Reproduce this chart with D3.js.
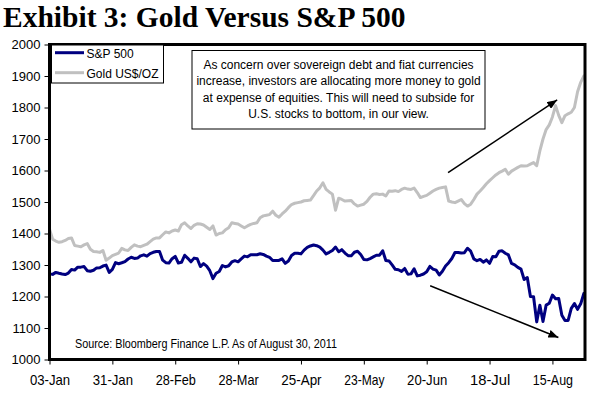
<!DOCTYPE html>
<html><head><meta charset="utf-8">
<script src="https://cdn.jsdelivr.net/npm/d3@7"></script>
<style>
html,body{margin:0;padding:0;background:#fff;}
svg{display:block;}
text{font-family:"Liberation Sans",Arial,sans-serif;}
</style></head>
<body>
<script>
// ---- data ----
const tickLabels = ["03-Jan","31-Jan","28-Feb","28-Mar","25-Apr","23-May","20-Jun","18-Jul","15-Aug"];
const yTicks = [1000,1100,1200,1300,1400,1500,1600,1700,1800,1900,2000];
const spx = [1271.87,1270.20,1276.56,1273.85,1271.50,1269.75,1274.48,1285.96,1283.76,1293.24,
1293.24,1295.02,1281.92,1280.26,1283.35,1290.84,1291.18,1296.63,1299.54,1276.34,
1286.12,1307.59,1304.03,1307.10,1310.87,1319.05,1324.57,1320.88,1321.87,1329.15,
1332.32,1328.01,1336.32,1340.43,1343.01,1343.01,1315.44,1307.40,1306.10,1319.88,
1327.22,1306.33,1308.44,1330.97,1321.15,1310.13,1321.82,1320.02,1295.11,1304.28,
1296.39,1281.87,1256.88,1273.72,1279.21,1298.38,1293.77,1297.54,1309.66,1313.80,
1310.19,1319.44,1328.26,1325.83,1332.41,1332.87,1332.63,1335.54,1333.51,1328.17,
1324.46,1314.16,1314.41,1314.52,1319.68,1305.14,1312.62,1330.36,1337.38,1337.38,
1335.25,1347.24,1355.66,1360.48,1363.61,1361.22,1356.62,1347.32,1335.10,1340.20,
1346.29,1357.16,1342.08,1348.65,1337.77,1329.47,1328.98,1340.68,1343.60,1333.27,
1317.37,1316.28,1320.47,1325.69,1331.10,1331.10,1345.20,1314.55,1312.94,1300.16,
1286.17,1284.94,1279.56,1289.00,1270.98,1271.83,1287.87,1265.42,1267.64,1271.50,
1278.36,1295.52,1287.14,1283.50,1268.45,1280.10,1296.67,1307.41,1320.64,1339.67,
1339.67,1337.88,1339.22,1353.22,1343.80,1319.49,1313.64,1317.72,1308.87,1316.14,
1305.44,1326.73,1325.84,1343.80,1345.02,1337.43,1331.94,1304.89,1300.67,1292.28,
1286.94,1254.05,1260.34,1200.07,1199.38,1119.46,1172.53,1120.76,1172.64,1178.81,
1204.49,1192.76,1193.89,1140.65,1123.53,1123.82,1162.35,1177.60,1159.27,1176.80,
1210.08,1212.92];
const gold = [1414,1382,1376,1372,1374,1378,1384,1386,1362,1360,
1358,1364,1368,1350,1343,1342,1340,1346,1315,1322,
1330,1334,1338,1353,1348,1346,1356,1364,1360,1358,
1362,1366,1374,1382,1386,1386,1396,1405,1402,1408,
1411,1408,1428,1434,1424,1416,1426,1431,1430,1427,
1420,1413,1424,1395,1400,1402,1412,1418,1434,1432,
1430,1424,1418,1424,1429,1432,1434,1450,1456,1458,
1460,1471,1458,1452,1462,1471,1482,1492,1496,1498,
1500,1504,1505,1506,1520,1535,1545,1561,1540,1532,
1525,1474,1512,1508,1503,1504,1505,1494,1487,1490,
1493,1502,1515,1525,1526,1524,1525,1519,1535,1534,
1536,1533,1540,1544,1541,1540,1544,1530,1514,1518,
1521,1528,1535,1540,1544,1546,1548,1503,1500,1498,
1503,1508,1495,1487,1493,1508,1525,1535,1546,1558,
1568,1577,1586,1593,1598,1604,1588,1598,1604,1610,
1615,1614,1615,1620,1625,1615,1662,1700,1730,1745,
1770,1806,1775,1752,1774,1780,1785,1800,1850,1880,
1900,1903];
const seriesNames = ["S&P 500","Gold US$/OZ"];
const seriesColors = ["#000080","#c0c0c0"];
const noteLines = ["As concern over sovereign debt and fiat currencies",
"increase, investors are allocating more money to gold",
"at expense of equities. This will need to subside for",
"U.S. stocks to bottom, in our view."];
const sourceText = "Source: Bloomberg Finance L.P. As of August 30, 2011";
const titleText = "Exhibit 3: Gold Versus S&P 500";
// arrows in data coordinates [index, value]
const arrowUp = [[126.8,1593],[161.5,1824]];
const arrowDown = [[121.1,1234],[161.9,1070]];

// ---- layout ----
const W=600,H=399;
const L=49.5,R=585,T=44.5,B=359.5;
const svg=d3.select("body").append("svg").attr("width",W).attr("height",H);
const x=d3.scaleLinear().domain([0,171]).range([L,587]);
const y=d3.scaleLinear().domain([1000,2000]).range([B,T]);

svg.append("text").attr("x",3).attr("y",27)
  .style("font-family",'"Liberation Serif","Times New Roman",serif')
  .style("font-weight","bold").style("font-size","29.5px").text(titleText);

svg.append("defs").append("clipPath").attr("id","clip")
  .append("rect").attr("x",L).attr("y",T).attr("width",R-L).attr("height",B-T);
svg.select("defs").append("marker").attr("id","ah").attr("viewBox","0 0 10 8")
  .attr("refX",10).attr("refY",4).attr("markerWidth",10).attr("markerHeight",8)
  .attr("markerUnits","userSpaceOnUse").attr("orient","auto")
  .append("path").attr("d","M0,0L10,4L0,8Z").attr("fill","#000");

// y axis
const yAxis=d3.axisLeft(y).tickValues(yTicks).tickSize(5).tickPadding(4).tickFormat(d3.format("d"));
const gy=svg.append("g").attr("transform",`translate(${L},0)`).call(yAxis);
gy.select(".domain").remove();
gy.selectAll("line").attr("stroke","#000");
gy.selectAll("text").style("font-family",'"Liberation Sans",Arial,sans-serif').style("font-size","13px").attr("fill","#000");

// x axis
const xTickIdx=tickLabels.map((d,i)=>i*20);
const xAxis=d3.axisBottom(x).tickValues(xTickIdx).tickSize(5).tickPadding(8).tickFormat((d,i)=>tickLabels[i]);
const gx=svg.append("g").attr("transform",`translate(0,${B})`).call(xAxis);
gx.select(".domain").remove();
gx.selectAll("line").attr("stroke","#000");
gx.selectAll("text").style("font-family",'"Liberation Sans",Arial,sans-serif').style("font-size","14.5px").attr("fill","#000")
  .attr("y",0).attr("dy",null).attr("transform",null).attr("dominant-baseline",null)
  .each(function(){d3.select(this).attr("y",25);})
  .attr("textLength",function(){return this.textContent.length*6.7;}).attr("lengthAdjust","spacingAndGlyphs");

// lines
const line=d3.line().x((d,i)=>x(i)).y(d=>y(d));
const gl=svg.append("g").attr("clip-path","url(#clip)");
gl.append("path").datum(gold).attr("d",line).attr("fill","none").attr("stroke",seriesColors[1]).attr("stroke-width",3).attr("stroke-linejoin","round");
gl.append("path").datum(spx).attr("d",line).attr("fill","none").attr("stroke",seriesColors[0]).attr("stroke-width",3).attr("stroke-linejoin","round");

// frame
svg.append("rect").attr("x",L).attr("y",T).attr("width",R-L).attr("height",B-T)
  .attr("fill","none").attr("stroke","#000").attr("stroke-width",3);

// legend
const lg=svg.append("g");
lg.append("rect").attr("x",51.5).attr("y",45).attr("width",112).attr("height",38).attr("fill","#fff").attr("stroke","#000").attr("stroke-width",1);
seriesNames.forEach((n,i)=>{
  const yy=52.7+i*20;
  lg.append("line").attr("x1",55).attr("x2",84).attr("y1",yy).attr("y2",yy).attr("stroke",seriesColors[i]).attr("stroke-width",3);
  lg.append("text").attr("x",86.5).attr("y",yy+5.3).style("font-size","12px").text(n);
});

// note box
svg.append("rect").attr("x",192).attr("y",50.5).attr("width",293).attr("height",78.5).attr("fill","#fff").attr("stroke","#000").attr("stroke-width",1);
noteLines.forEach((t,i)=>{
  svg.append("text").attr("x",338.5).attr("y",68.5+i*16.5).attr("text-anchor","middle").style("font-size","12px").text(t);
});

// arrows
[arrowUp,arrowDown].forEach(a=>{
  svg.append("line").attr("x1",x(a[0][0])).attr("y1",y(a[0][1])).attr("x2",x(a[1][0])).attr("y2",y(a[1][1]))
    .attr("stroke","#000").attr("stroke-width",1.5).attr("marker-end","url(#ah)");
});

// source
svg.append("text").attr("x",75).attr("y",348).style("font-size","12.5px")
  .attr("textLength",262).attr("lengthAdjust","spacingAndGlyphs").text(sourceText);
</script>
</body></html>
